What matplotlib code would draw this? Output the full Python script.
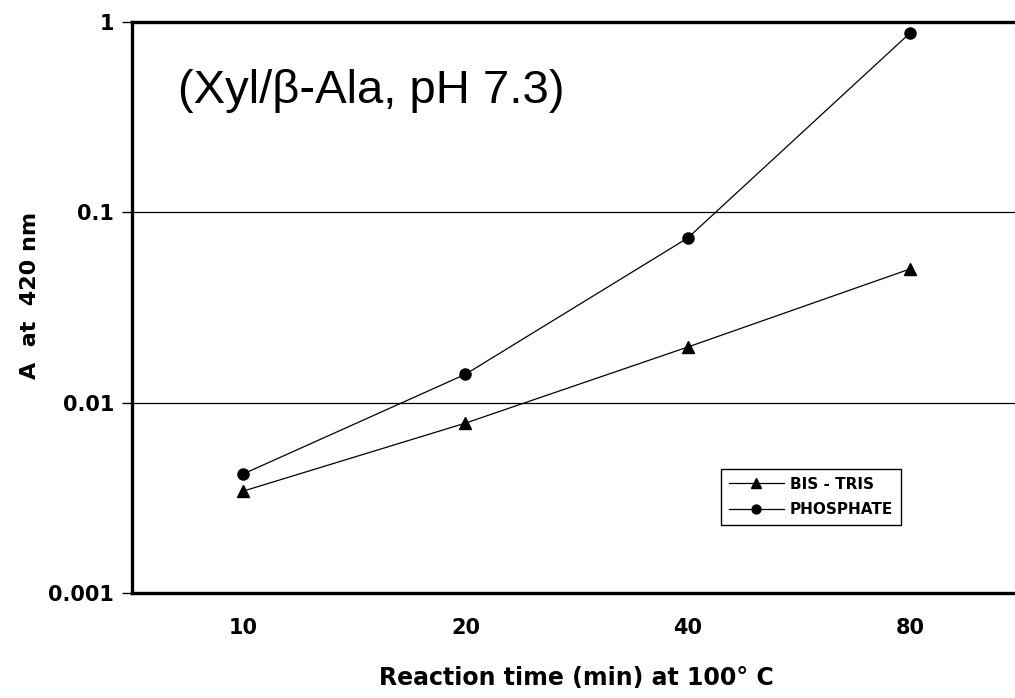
import numpy as np
import matplotlib.pyplot as plt

plt.rcParams['font.family'] = ['Liberation Sans', 'DejaVu Sans']

# reaction times (min) and absorbance at 420 nm
times = ['10', '20', '40', '80']
bis_tris = [0.00343, 0.00781, 0.0196, 0.0504]
phosphate = [0.00422, 0.0141, 0.0733, 0.875]

bold = {'family': 'DejaVu Sans', 'weight': 'bold'}

fig = plt.figure(figsize=(10.15, 6.98), dpi=100)
ax = fig.add_axes([0.130, 0.1504, 0.876, 0.818])

x = np.arange(len(times))
ax.plot(x, bis_tris, color='black', lw=0.9, marker='^', ms=9, label='BIS - TRIS')
ax.plot(x, phosphate, color='black', lw=0.9, marker='o', ms=8, label='PHOSPHATE')

ax.set_yscale('log')
ax.set_ylim(0.001, 1)
ax.set_xlim(-0.5, 3.5)
ax.set_yticks([0.001, 0.01, 0.1, 1])
ax.set_yticklabels(['0.001', '0.01', '0.1', '1'])
ax.yaxis.set_minor_locator(plt.NullLocator())
ax.set_xticks(x)
ax.set_xticklabels(times)
ax.tick_params(axis='x', length=0, pad=18)
ax.tick_params(axis='y', length=7, width=1, direction='out', pad=6)
for lab in ax.get_xticklabels() + ax.get_yticklabels():
    lab.set_fontfamily('DejaVu Sans')
    lab.set_fontweight('bold')
    lab.set_fontsize(15)

for yv in [0.01, 0.1]:
    ax.axhline(yv, color='black', lw=0.9, zorder=0)

for side in ['left', 'bottom', 'top']:
    ax.spines[side].set_linewidth(2.4)
ax.spines['right'].set_visible(False)

ax.set_xlabel('Reaction time (min) at 100° C', fontsize=17, labelpad=20, **bold)
fig.text(30 / 1015, 1 - 295 / 698, 'A  at  420 nm', rotation=90,
         ha='center', va='center', fontsize=16, **bold)

ax.text(0.052, 0.88, '(Xyl/β-Ala, pH 7.3)', transform=ax.transAxes,
        fontsize=34, ha='left', va='center')

leg = ax.legend(loc='lower left', bbox_to_anchor=(0.6625, 0.119), borderaxespad=0,
                fancybox=False, edgecolor='black', framealpha=1,
                prop={'family': 'DejaVu Sans', 'weight': 'bold', 'size': 11},
                handlelength=3.6, handletextpad=0.4, markerscale=0.8,
                borderpad=0.5, labelspacing=0.7)
leg.get_frame().set_linewidth(1.0)

fig.savefig('out.png', dpi=100)
